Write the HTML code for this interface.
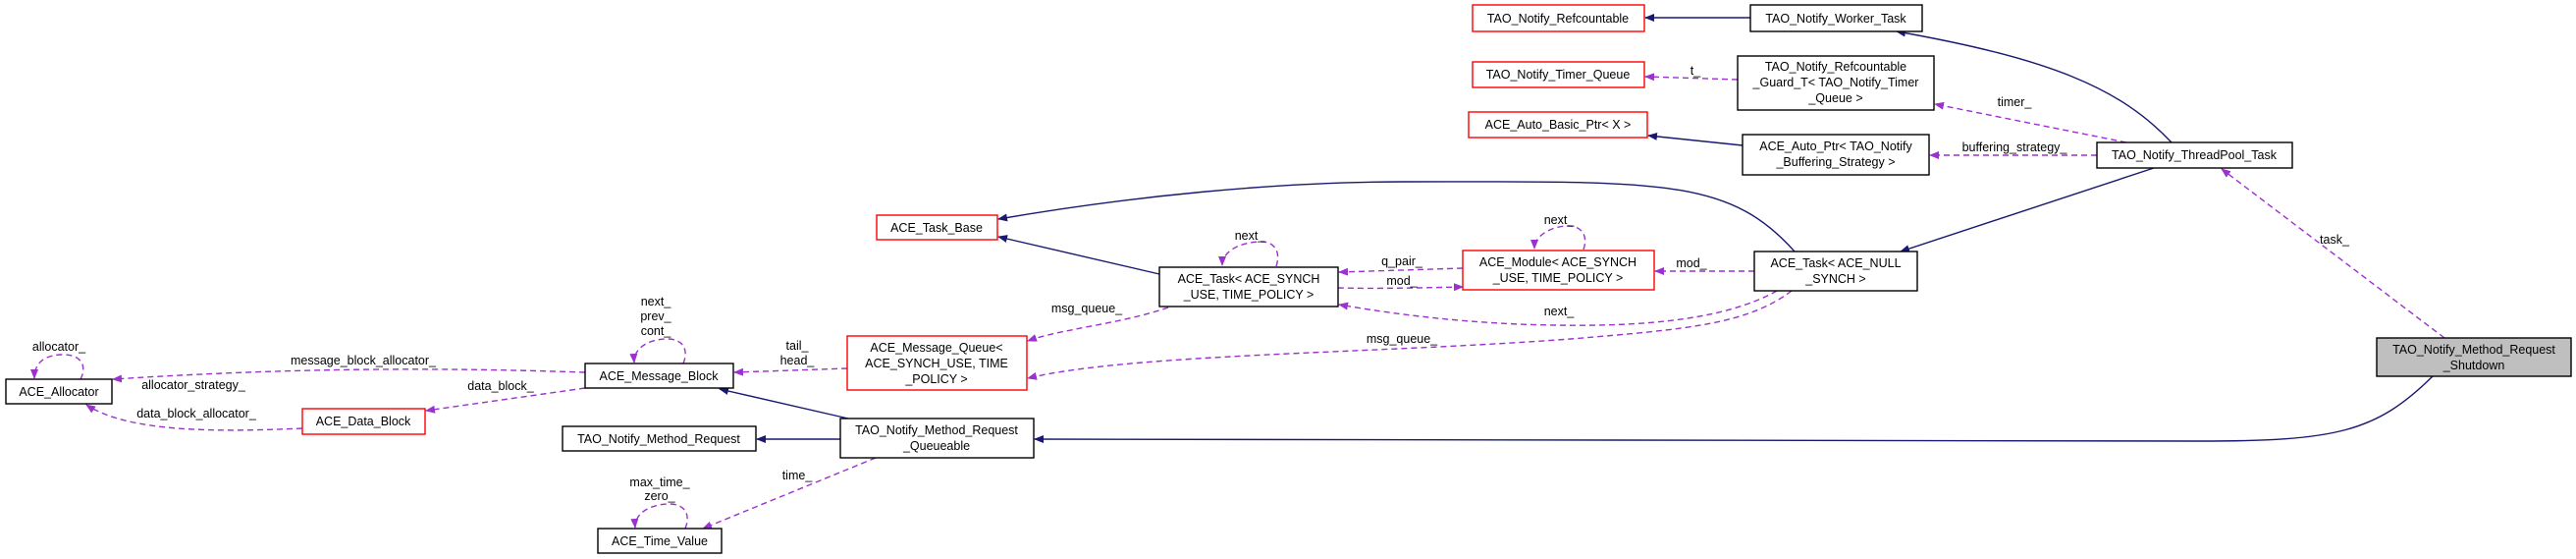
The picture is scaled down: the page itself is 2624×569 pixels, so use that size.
<!DOCTYPE html>
<html><head><meta charset="utf-8"><style>
html,body{margin:0;padding:0;background:#fff;}
svg{display:block;}
text{font-family:"Liberation Sans",sans-serif;font-size:12.5px;fill:#000;}
.n{fill:#fff;stroke:#000;stroke-width:1.4;}
.r{fill:#fff;stroke:#f00;stroke-width:1.4;}
.g{fill:#bfbfbf;stroke:#000;stroke-width:1.4;}
.s{fill:none;stroke:#191970;stroke-width:1.4;}
.d{fill:none;stroke:#9a32cd;stroke-width:1.4;stroke-dasharray:6,4;}
</style></head><body>
<svg width="2624" height="569" viewBox="0 0 2624 569" xmlns="http://www.w3.org/2000/svg">
<defs>
<marker id="an" markerWidth="10" markerHeight="8" refX="9" refY="4" orient="auto" markerUnits="userSpaceOnUse"><path d="M0,0 L10,4 L0,8 z" fill="#191970"/></marker>
<marker id="ap" markerWidth="10" markerHeight="8" refX="9" refY="4" orient="auto" markerUnits="userSpaceOnUse"><path d="M0,0 L10,4 L0,8 z" fill="#9a32cd"/></marker>
</defs>

<!-- solid edges -->
<path class="s" marker-end="url(#an)" d="M1783,18 L1676,18"/>
<path class="s" marker-end="url(#an)" d="M2212,145 C2160,90 2090,60 1932,32"/>
<path class="s" marker-end="url(#an)" d="M1775,148 L1679,138"/>
<path class="s" marker-end="url(#an)" d="M2194,171 L1936,256"/>
<path class="s" marker-end="url(#an)" d="M1828,256 C1760,180 1690,185 1430,185 C1300,185 1150,200 1017,223"/>
<path class="s" marker-end="url(#an)" d="M1181,279 L1017,241"/>
<path class="s" marker-end="url(#an)" d="M864,426 L733,396"/>
<path class="s" marker-end="url(#an)" d="M856,447 L771,447"/>
<path class="s" marker-end="url(#an)" d="M2478,383 C2420,440 2380,449 2240,449 L1054,447"/>

<!-- dashed edges -->
<path class="d" marker-end="url(#ap)" d="M1770,81 L1676,78"/>
<path class="d" marker-end="url(#ap)" d="M2166,145 L1971,106"/>
<path class="d" marker-end="url(#ap)" d="M2136,158 L1966,158"/>
<path class="d" marker-end="url(#ap)" d="M2490,344 L2263,172"/>
<path class="d" marker-end="url(#ap)" d="M1787,276 L1686,276"/>
<path class="d" marker-end="url(#ap)" d="M1490,273 L1364,277"/>
<path class="d" marker-end="url(#ap)" d="M1363,293 C1400,294 1450,293 1490,292"/>
<path class="d" marker-end="url(#ap)" d="M1810,296 C1750,330 1650,332 1585,331 C1500,330 1420,320 1364,310"/>
<path class="d" marker-end="url(#ap)" d="M1825,296 C1780,330 1720,335 1600,345 C1400,360 1150,360 1047,385"/>
<path class="d" marker-end="url(#ap)" d="M1190,313 C1140,330 1080,335 1047,347"/>
<path class="d" marker-end="url(#ap)" d="M863,375 L748,379"/>
<path class="d" marker-end="url(#ap)" d="M596,379 C450,374 300,374 115,386"/>
<path class="d" marker-end="url(#ap)" d="M596,395 L434,418"/>
<path class="d" marker-end="url(#ap)" d="M308,436 C220,440 130,440 88,412"/>
<path class="d" marker-end="url(#ap)" d="M892,466 L716,538"/>
<!-- self loops -->
<path class="d" marker-end="url(#ap)" d="M82,386 C90,370 80,360 62,361 C42,362 35,372 35,385"/>
<path class="d" marker-end="url(#ap)" d="M696,370 C702,355 695,345 680,345 C660,345 645,355 646,369"/>
<path class="d" marker-end="url(#ap)" d="M698,538 C704,523 697,513 682,513 C662,513 646,523 647,537"/>
<path class="d" marker-end="url(#ap)" d="M1300,271 C1305,256 1298,246 1285,246 C1265,246 1245,255 1245,270"/>
<path class="d" marker-end="url(#ap)" d="M1613,254 C1618,240 1611,230 1598,230 C1580,230 1563,240 1563,253"/>

<!-- edge labels -->
<g text-anchor="middle">
<text x="1727" y="76">t_</text>
<text x="2052" y="108">timer_</text>
<text x="2052" y="154">buffering_strategy_</text>
<text x="2378" y="248">task_</text>
<text x="1723" y="272">mod_</text>
<text x="1428" y="270">q_pair_</text>
<text x="1428" y="290">mod_</text>
<text x="1588" y="321">next_</text>
<text x="1428" y="349">msg_queue_</text>
<text x="1107" y="318">msg_queue_</text>
<text x="1273" y="244">next_</text>
<text x="1588" y="228">next_</text>
<text x="812" y="356">tail_</text>
<text x="812" y="371">head_</text>
<text x="370" y="371">message_block_allocator_</text>
<text x="197" y="396">allocator_strategy_</text>
<text x="510" y="397">data_block_</text>
<text x="200" y="425">data_block_allocator_</text>
<text x="60" y="357">allocator_</text>
<text x="668" y="311">next_</text>
<text x="668" y="326">prev_</text>
<text x="668" y="341">cont_</text>
<text x="672" y="495">max_time_</text>
<text x="672" y="509">zero_</text>
<text x="812" y="488">time_</text>
</g>

<!-- nodes -->
<g text-anchor="middle">
<rect class="r" x="1500" y="5" width="175" height="27"/><text x="1587" y="23">TAO_Notify_Refcountable</text>
<rect class="n" x="1783" y="5" width="175" height="27"/><text x="1870" y="23">TAO_Notify_Worker_Task</text>
<rect class="r" x="1500" y="63" width="175" height="26"/><text x="1587" y="80">TAO_Notify_Timer_Queue</text>
<rect class="n" x="1770" y="57" width="200" height="55"/><text x="1870" y="72">TAO_Notify_Refcountable</text><text x="1870" y="88">_Guard_T&lt; TAO_Notify_Timer</text><text x="1870" y="104">_Queue &gt;</text>
<rect class="r" x="1496" y="114" width="182" height="26"/><text x="1587" y="131">ACE_Auto_Basic_Ptr&lt; X &gt;</text>
<rect class="n" x="1775" y="137" width="190" height="41"/><text x="1870" y="153">ACE_Auto_Ptr&lt; TAO_Notify</text><text x="1870" y="169">_Buffering_Strategy &gt;</text>
<rect class="n" x="2136" y="145" width="199" height="26"/><text x="2235" y="162">TAO_Notify_ThreadPool_Task</text>
<rect class="n" x="1787" y="256" width="166" height="40"/><text x="1870" y="272">ACE_Task&lt; ACE_NULL</text><text x="1870" y="288">_SYNCH &gt;</text>
<rect class="r" x="1490" y="255" width="195" height="40"/><text x="1587" y="271">ACE_Module&lt; ACE_SYNCH</text><text x="1587" y="287">_USE, TIME_POLICY &gt;</text>
<rect class="n" x="1181" y="272" width="182" height="40"/><text x="1272" y="288">ACE_Task&lt; ACE_SYNCH</text><text x="1272" y="304">_USE, TIME_POLICY &gt;</text>
<rect class="g" x="2421" y="344" width="198" height="39"/><text x="2520" y="360">TAO_Notify_Method_Request</text><text x="2520" y="376">_Shutdown</text>
<rect class="r" x="893" y="219" width="123" height="25"/><text x="954" y="236">ACE_Task_Base</text>
<rect class="n" x="596" y="370" width="151" height="25"/><text x="671" y="387">ACE_Message_Block</text>
<rect class="r" x="863" y="342" width="183" height="55"/><text x="954" y="358">ACE_Message_Queue&lt;</text><text x="954" y="374">ACE_SYNCH_USE, TIME</text><text x="954" y="390">_POLICY &gt;</text>
<rect class="r" x="308" y="416" width="125" height="26"/><text x="370" y="433">ACE_Data_Block</text>
<rect class="n" x="6" y="386" width="108" height="25"/><text x="60" y="403">ACE_Allocator</text>
<rect class="n" x="573" y="434" width="197" height="25"/><text x="671" y="451">TAO_Notify_Method_Request</text>
<rect class="n" x="856" y="426" width="197" height="40"/><text x="954" y="442">TAO_Notify_Method_Request</text><text x="954" y="458">_Queueable</text>
<rect class="n" x="609" y="538" width="126" height="25"/><text x="672" y="555">ACE_Time_Value</text>
</g>
</svg>
</body></html>
